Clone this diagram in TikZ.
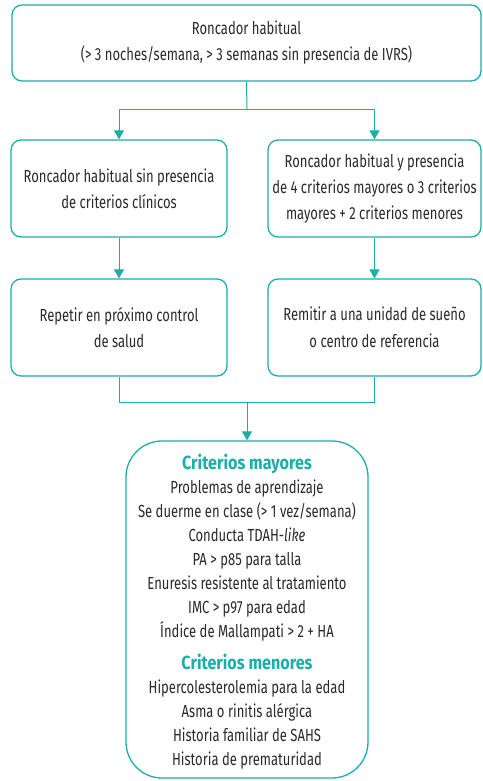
\documentclass[tikz,border=0pt]{standalone}
\usepackage{fontspec}
\setmainfont{Fira Sans}[FakeStretch=0.745]
\newfontfamily\headfont{Fira Sans}[FakeStretch=0.85]
\usetikzlibrary{arrows.meta}
\definecolor{teal1}{HTML}{1AAFA8}
\definecolor{txt}{HTML}{2A2A2A}
\tikzset{
  box/.style={draw=teal1, line width=1.3pt, rounded corners=10pt, align=center, text=txt, inner sep=0pt},
  conn/.style={draw=teal1, line width=1pt},
  arr/.style={conn, -{Triangle[length=9pt,width=10pt]}}
}
\newcommand{\crithead}[1]{{\color{teal1}\headfont\bfseries\fontsize{19}{20}\selectfont #1}}
\begin{document}
\begin{tikzpicture}[x=1pt,y=-1pt]
\useasboundingbox (0,0) rectangle (482,781);
\node[box, minimum width=469pt, minimum height=76pt, font=\fontsize{17.5}{26}\selectfont] (top) at (246.5,43)
  {Roncador habitual\\(> 3 noches/semana, > 3 semanas sin presencia de IVRS)};
\node[box, minimum width=216pt, minimum height=97pt, font=\fontsize{17.5}{26}\selectfont] (l1) at (119,188.5)
  {Roncador habitual sin presencia\\de criterios clínicos};
\node[box, minimum width=213pt, minimum height=97pt, font=\fontsize{17.5}{26}\selectfont] (r1) at (374.5,188.5)
  {Roncador habitual y presencia\\de 4 criterios mayores o 3 criterios\\mayores + 2 criterios menores};
\node[box, minimum width=216pt, minimum height=97pt, font=\fontsize{17.5}{26.5}\selectfont] (l2) at (119,327.5)
  {Repetir en próximo control\\de salud};
\node[box, minimum width=213pt, minimum height=97pt, font=\fontsize{17.5}{26.5}\selectfont] (r2) at (374.5,327.5)
  {Remitir a una unidad de sueño\\o centro de referencia};
\node[box, rounded corners=36pt, minimum width=242pt, minimum height=337pt] (crit) at (247,609.5) {};
\node[align=center, text=txt, inner sep=0pt, font=\fontsize{17.5}{24}\selectfont] (crittxt) at (247,612)
  {\crithead{Criterios mayores}\\
   Problemas de aprendizaje\\
   Se duerme en clase (> 1 vez/semana)\\
   Conducta TDAH-\textit{like}\\
   PA > p85 para talla\\
   Enuresis resistente al tratamiento\\
   IMC > p97 para edad\\
   Índice de Mallampati > 2 + HA\\[8pt]
   \crithead{Criterios menores}\\
   Hipercolesterolemia para la edad\\
   Asma o rinitis alérgica\\
   Historia familiar de SAHS\\
   Historia de prematuridad};
\coordinate (j1) at (247,110);
\coordinate (j2) at (247,402);
\draw[conn] (top.south) -- (j1);
\draw[arr] (j1) -| (l1.north);
\draw[arr] (j1) -| (r1.north);
\draw[arr] (l1.south) -- (l2.north);
\draw[arr] (r1.south) -- (r2.north);
\draw[conn] (l2.south) |- (j2);
\draw[conn] (r2.south) |- (j2);
\draw[arr] (j2) -- (crit.north);
\end{tikzpicture}
\end{document}
